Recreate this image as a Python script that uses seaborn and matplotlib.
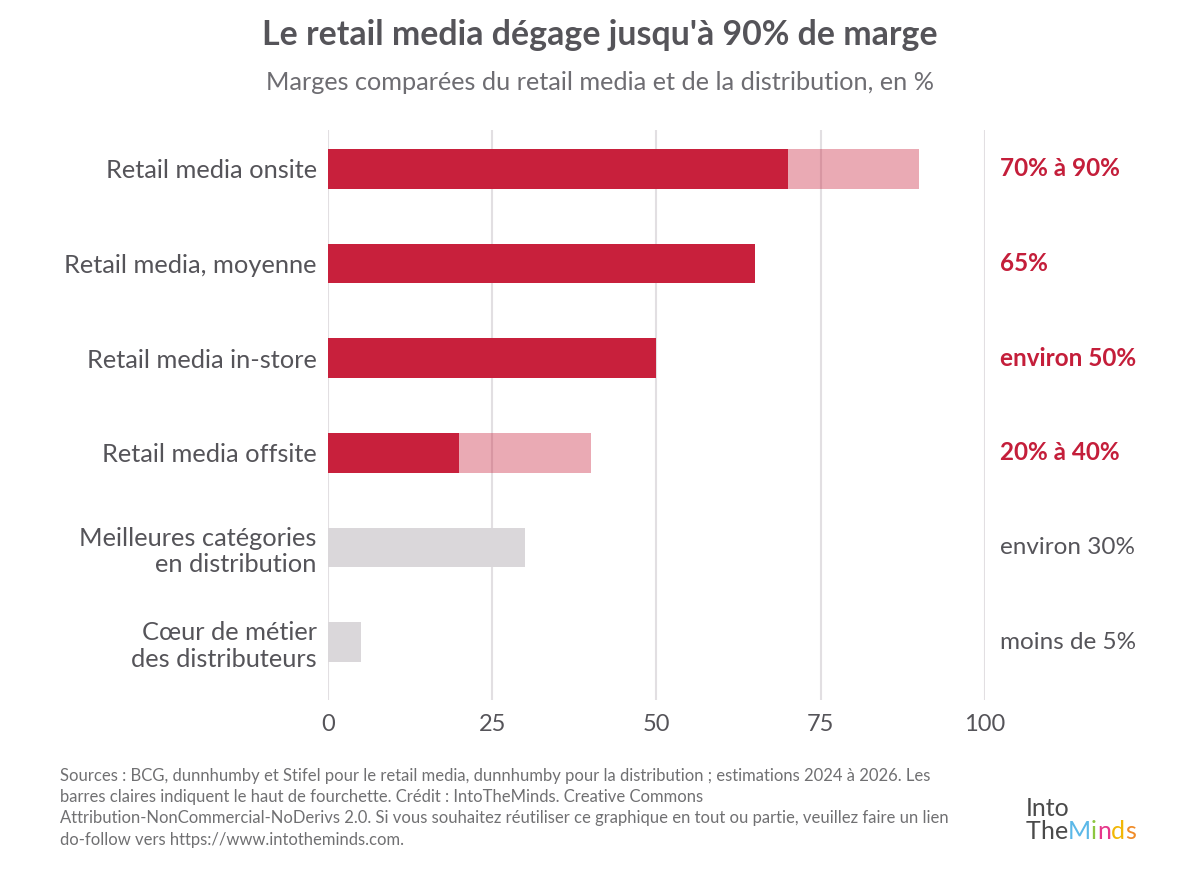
import pandas as pd
import matplotlib.pyplot as plt
import seaborn as sns

categories = ["Retail media onsite", "Retail media, moyenne", "Retail media in-store",
              "Retail media offsite", "Meilleures catégories\nen distribution",
              "Cœur de métier\ndes distributeurs"]
low = [70, 65, 50, 20, 30, 5]
high = [90, 65, 50, 40, 30, 5]
value_labels = ["70% à 90%", "65%", "environ 50%", "20% à 40%", "environ 30%", "moins de 5%"]
group = ["retail", "retail", "retail", "retail", "distribution", "distribution"]

RED = '#C8203C'
GREY_BAR = '#DAD7DA'
TEXT = '#555459'

sns.set_theme(style='white')
plt.rcParams['font.family'] = ['Lato', 'DejaVu Sans']

df = pd.DataFrame({'cat': categories, 'low': low, 'high': high, 'group': group})
dark = {c: (RED if g == 'retail' else GREY_BAR) for c, g in zip(categories, group)}

fig = plt.figure(figsize=(12, 8.76), dpi=100)
fig.patch.set_facecolor('white')
ax = fig.add_axes([0.2733, 0.2009, 0.5475, 0.6507])

# grid first so the light bars let it show through
for v in [0, 25, 50, 75, 100]:
    ax.axvline(v, color='#E2DFE2', lw=1.5, zorder=0)

# light bars = top of the range
sns.barplot(data=df, y='cat', x='high', hue='cat', palette=dark, orient='h',
            width=0.42, alpha=0.38, saturation=1, legend=False, ax=ax, zorder=2)
# dark bars = bottom of the range
sns.barplot(data=df, y='cat', x='low', hue='cat', palette=dark, orient='h',
            width=0.42, saturation=1, legend=False, ax=ax, zorder=3)
for p in ax.patches:
    p.set_edgecolor('none')

ax.set_xlim(0, 100)
ax.set_ylim(5.61, -0.41)
ax.set_xticks([0, 25, 50, 75, 100])
ax.set_xlabel('')
ax.set_ylabel('')
for s in ax.spines.values():
    s.set_visible(False)
ax.tick_params(axis='both', length=0, labelcolor=TEXT)
ax.tick_params(axis='y', pad=8, labelsize=18.3)
ax.tick_params(axis='x', pad=10, labelsize=17)
for lab in ax.get_yticklabels():
    lab.set_multialignment('right')

for i, (txt, g) in enumerate(zip(value_labels, group)):
    if g == 'retail':
        ax.text(102.3, i, txt, color='#C41E3A', fontsize=17.5, fontweight='bold',
                va='center', ha='left', clip_on=False)
    else:
        ax.text(102.3, i, txt, color=TEXT, fontsize=17.5, va='center', ha='left',
                clip_on=False)

fig.text(0.5, 1 - 35 / 876, "Le retail media dégage jusqu'à 90% de marge",
         ha='center', va='center', fontsize=24.4, fontweight='bold', color=TEXT)
fig.text(0.5, 1 - 82 / 876, "Marges comparées du retail media et de la distribution, en %",
         ha='center', va='center', fontsize=18.2, color='#6E6D72')

note = ("Sources : BCG, dunnhumby et Stifel pour le retail media, dunnhumby pour la distribution ; estimations 2024 à 2026. Les\n"
        "barres claires indiquent le haut de fourchette. Crédit : IntoTheMinds. Creative Commons\n"
        "Attribution-NonCommercial-NoDerivs 2.0. Si vous souhaitez réutiliser ce graphique en tout ou partie, veuillez faire un lien\n"
        "do-follow vers https://www.intotheminds.com.")
fig.text(60 / 1200, 1 - 768 / 876, note, ha='left', va='top', fontsize=12,
         color='#707072', linespacing=1.4)

# logo as text
fig.text(1026 / 1200, 1 - 816 / 876, "Into", ha='left', va='baseline', fontsize=18,
         color='#4A4A4A')
x0 = 1026
for ch, col in zip("TheMinds", ['#4A4A4A', '#4A4A4A', '#4A4A4A', '#5BB8E8', '#8DC63F',
                                '#E6378B', '#F2B705', '#F08C28']):
    t = fig.text(x0 / 1200, 1 - 839 / 876, ch, ha='left', va='baseline', fontsize=18,
                 color=col)
    fig.canvas.draw()
    x0 += t.get_window_extent().width

fig.savefig('out.png', dpi=100, facecolor='white')
